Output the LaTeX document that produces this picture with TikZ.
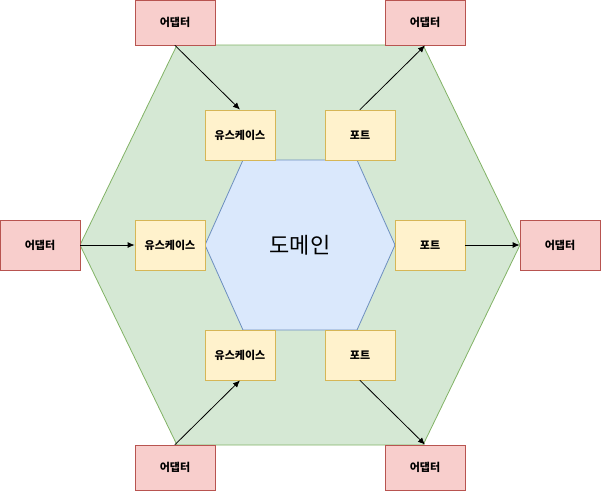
\documentclass[tikz,border=0pt]{standalone}
\usepackage{fontspec}
\newfontfamily\kofont{Noto Sans CJK KR}
\usepackage{tikz}
\usetikzlibrary{arrows.meta, calc}
\definecolor{hexGreen}{HTML}{D5E8D4}
\definecolor{hexGreenLine}{HTML}{82B366}
\definecolor{hexBlue}{HTML}{DAE8FC}
\definecolor{hexBlueLine}{HTML}{6C8EBF}
\definecolor{adapterRed}{HTML}{F8CECC}
\definecolor{adapterRedLine}{HTML}{B85450}
\definecolor{innerYellow}{HTML}{FFF2CC}
\definecolor{innerYellowLine}{HTML}{D6B656}
\tikzset{
	adapter/.style={draw=adapterRedLine, fill=adapterRed, line width=0.8pt, inner sep=0pt,
		minimum width=80pt, minimum height=45pt, font=\kofont\bfseries\fontsize{11}{13}\selectfont},
	innerbox/.style={draw=innerYellowLine, fill=innerYellow, line width=0.8pt, inner sep=0pt,
		minimum width=70pt, minimum height=50pt, font=\kofont\bfseries\fontsize{11}{13}\selectfont},
	link/.style={line width=0.8pt, -{Latex[length=7pt, width=6pt]}}
}

\begin{document}
\begin{tikzpicture}[x=1pt, y=-1pt, line cap=round]

	\useasboundingbox (0,0) rectangle (601,491);

	% outer hexagon
	\coordinate (OL) at (80,245);
	\coordinate (OTL) at (177,45);
	\coordinate (OTR) at (423,45);
	\coordinate (OR) at (520,245);
	\coordinate (OBR) at (423,445);
	\coordinate (OBL) at (177,445);
	\filldraw[fill=hexGreen, draw=hexGreenLine, line width=0.8pt] (OL) -- (OTL) -- (OTR) -- (OR) -- (OBR) -- (OBL) -- cycle;

	% inner hexagon
	\coordinate (IL) at (205,245);
	\coordinate (ITL) at (243,160);
	\coordinate (ITR) at (357,160);
	\coordinate (IR) at (395,245);
	\coordinate (IBR) at (357,330);
	\coordinate (IBL) at (243,330);
	\filldraw[fill=hexBlue, draw=hexBlueLine, line width=0.8pt] (IL) -- (ITL) -- (ITR) -- (IR) -- (IBR) -- (IBL) -- cycle;
	\node (domain) at (300,245) {\kofont\fontsize{22}{26}\selectfont 도메인};

	\node[adapter] (adTL) at (175,22.5) {어댑터};
	\node[adapter] (adTR) at (425,22.5) {어댑터};
	\node[adapter, minimum height=50pt] (adL) at (40,245) {어댑터};
	\node[adapter, minimum height=50pt] (adR) at (560,245) {어댑터};
	\node[adapter] (adBL) at (175,467.5) {어댑터};
	\node[adapter] (adBR) at (425,467.5) {어댑터};

	\node[innerbox] (ucT) at (240,135) {유스케이스};
	\node[innerbox] (ptT) at (360,135) {포트};
	\node[innerbox] (ucL) at (170,245) {유스케이스};
	\node[innerbox] (ptR) at (430,245) {포트};
	\node[innerbox] (ucB) at (240,355) {유스케이스};
	\node[innerbox] (ptB) at (360,355) {포트};

	\draw[link] (adTL.south) -- (ucT.north);
	\draw[link] (ptT.north) -- (adTR.south);
	\draw[link] (adL.east) -- (ucL.west);
	\draw[link] (ptR.east) -- (adR.west);
	\draw[link] (adBL.north) -- (ucB.south);
	\draw[link] (ptB.south) -- (adBR.north);

\end{tikzpicture}
\end{document}
